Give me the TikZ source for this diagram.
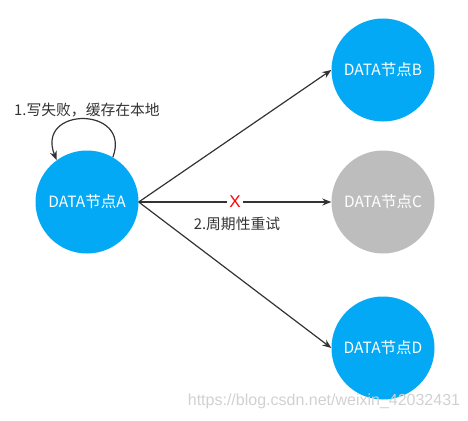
\documentclass[tikz,border=0pt]{standalone}
\usepackage{fontspec}
\setmainfont{Noto Sans CJK SC}
\newfontfamily\wmfont{Liberation Sans}
\usetikzlibrary{arrows.meta}
\definecolor{nodeblue}{HTML}{03A9F4}
\definecolor{nodegray}{HTML}{BDBDBD}
\definecolor{linegray}{HTML}{333333}
\begin{document}
\begin{tikzpicture}[x=1pt,y=-1pt,
  datanode/.style={circle,minimum size=103pt,inner sep=0pt,text=white,font=\fontsize{15.5}{17}\selectfont},
  conn/.style={draw=linegray,line width=1.2pt,-{Stealth[length=9pt,width=7pt]}},
  lbl/.style={text=linegray,font=\fontsize{14.8}{16}\selectfont,inner sep=0pt}]
\useasboundingbox (0,0) rectangle (468,420);
\node[datanode,fill=nodeblue] (A) at (87,202) {DATA节点A};
\node[datanode,fill=nodeblue] (B) at (383,70) {DATA节点B};
\node[datanode,fill=nodegray] (C) at (383,202) {DATA节点C};
\node[datanode,fill=nodeblue] (D) at (383,348) {DATA节点D};
\draw[conn] (A.east) -- (B.west);
\draw[conn] (A.east) -- node[pos=0.5,text=red,font=\wmfont\fontsize{17}{18}\selectfont,fill=white,inner xsep=2pt,inner ysep=0pt] (x) {X} (C.west);
\draw[conn] (A.east) -- (D.west);
\draw[conn] (A.60) .. controls (132,106) and (35,106) .. (A.126);
\node[lbl] (l1) at (87,110) {1.写失败，缓存在本地};
\node[lbl] (l2) at (237,224) {2.周期性重试};
\node[text=black!18,font=\wmfont\fontsize{16}{18}\selectfont,inner sep=0pt] (wm) at (324,401) {https://blog.csdn.net/weixin\_42032431};
\end{tikzpicture}
\end{document}
